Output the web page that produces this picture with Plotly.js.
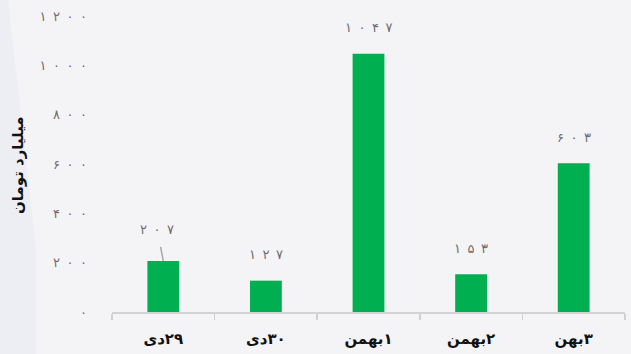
<!DOCTYPE html>
<html><head><meta charset="utf-8">
<script src="https://cdn.plot.ly/plotly-3.0.1.min.js"></script>
<style>html,body{margin:0;padding:0;background:#f4f3f6;}#chart{width:631px;height:354px;}</style>
</head><body><div id="chart"></div>
<script>
// Data
const categories = ["۲۹دی", "۳۰دی", "۱بهمن", "۲بهمن", "۳بهن"];
const values = [207, 127, 1047, 153, 603];
const yTicks = [0, 200, 400, 600, 800, 1000, 1200];
const yTitle = "میلیارد تومان";

const faDigits = "۰۱۲۳۴۵۶۷۸۹";
function fa(n) { return String(n).split("").map(d => faDigits[+d]).join("\u2002"); }

const W = 631, H = 354, L = 112, R = 6, T = 16, B = 42;
const pw = W - L - R, ph = H - T - B;
const px = v => (v - L) / pw;
const py = v => (H - B - v) / ph;

const trace = {
  type: "bar",
  x: categories.map(c => "\u200F" + c),
  y: values,
  marker: { color: "#00b050" },
  hoverinfo: "none"
};

const annotations = values.map((v, i) => {
  const a = {
    x: i, y: v, xref: "x", yref: "y",
    text: fa(v),
    font: { family: "DejaVu Sans", size: 13, color: "#6e6e6e" }
  };
  if (i === 0) {
    Object.assign(a, { showarrow: true, arrowhead: 0, arrowwidth: 1.5, arrowcolor: "#a8a8a8",
      ax: -6, ay: -31, startstandoff: 8 });
  } else {
    Object.assign(a, { showarrow: false, yshift: 26 });
  }
  return a;
});
annotations.push({
  xref: "paper", yref: "paper", x: px(18), y: py(165), xanchor: "center", yanchor: "middle",
  text: "<b>" + yTitle + "</b>", textangle: -90, showarrow: false,
  font: { family: "DejaVu Sans", size: 15, color: "#111" }
});

const stripPath = "M " + px(0) + " " + py(0) + " L " + px(8) + " " + py(0) + " L " + px(36) + " " + py(250) +
  " L " + px(36) + " " + py(354) + " L " + px(0) + " " + py(354) + " Z";

const layout = {
  width: W, height: H,
  margin: { l: L, r: R, t: T, b: B },
  paper_bgcolor: "#f4f3f6", plot_bgcolor: "rgba(0,0,0,0)",
  showlegend: false,
  bargap: 0.69,
  xaxis: {
    type: "category",
    tickson: "boundaries", ticks: "outside", ticklen: 6, tickcolor: "#d0d0d0", tickwidth: 1.5,
    showline: true, linecolor: "#d3d3d3", linewidth: 2,
    showgrid: false, zeroline: false,
    ticklabelstandoff: 12,
    tickfont: { family: "DejaVu Sans", size: 15, color: "#111", weight: "bold" }
  },
  yaxis: {
    range: [0, 1200], tickvals: yTicks, ticktext: yTicks.map(fa),
    showgrid: false, zeroline: false, showline: false, ticks: "",
    ticklabelstandoff: 24,
    tickfont: { family: "DejaVu Sans", size: 13, color: "#6e6e6e" }
  },
  shapes: [{
    type: "path", xref: "paper", yref: "paper", path: stripPath,
    fillcolor: "#eceef4", line: { width: 0 }, layer: "below"
  }],
  annotations: annotations
};

Plotly.newPlot("chart", [trace], layout, { displayModeBar: false, staticPlot: true });
</script></body></html>
